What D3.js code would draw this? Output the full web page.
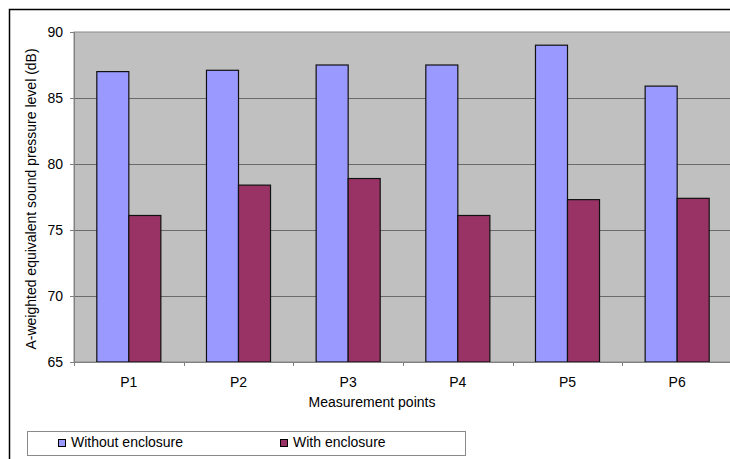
<!DOCTYPE html>
<html>
<head>
<meta charset="utf-8">
<script src="https://cdn.jsdelivr.net/npm/d3@7"></script>
<style>
  body { margin: 0; background: #fff; }
  text { font-family: "Liberation Sans", Arial, sans-serif; fill: #000; }
</style>
</head>
<body>
<div id="chart-area"></div>
<script>
// data
const points = ["P1", "P2", "P3", "P4", "P5", "P6"];
const withoutEnclosure = [87.0, 87.1, 87.5, 87.5, 89.0, 85.9];
const withEnclosure = [76.1, 78.4, 78.9, 76.1, 77.3, 77.4];
const seriesNames = ["Without enclosure", "With enclosure"];
const seriesColors = ["#9999ff", "#993366"];
const yTicks = [65, 70, 75, 80, 85, 90];

const canvasWidth = 730;
const canvasHeight = 459;
const plot = {left: 74, top: 32, right: 732, bottom: 362};
const fontSize = "14px";

var svg = d3.select("#chart-area")
    .append("svg")
        .attr("width", canvasWidth)
        .attr("height", canvasHeight);

// outer chart border (cut off at right / bottom)
svg.append("rect")
    .attr("x", 9.5).attr("y", 9.5)
    .attr("width", 740).attr("height", 470)
    .attr("fill", "#fff")
    .attr("stroke", "#000")
    .attr("stroke-width", 1.5);

// scales
var x = d3.scaleBand()
    .domain(points)
    .range([plot.left, plot.right]);

var gap = x.bandwidth() * 0.208;
var x1 = d3.scaleBand()
    .domain(seriesNames)
    .range([gap, x.bandwidth() - gap]);

var y = d3.scaleLinear()
    .domain([65, 90])
    .range([plot.bottom, plot.top]);

// plot background
svg.append("rect")
    .attr("x", plot.left).attr("y", plot.top)
    .attr("width", plot.right - plot.left)
    .attr("height", plot.bottom - plot.top)
    .attr("fill", "#c0c0c0")
    .attr("stroke", "#8a8a8a")
    .attr("stroke-width", 1);

// gridlines
svg.append("g")
    .selectAll("line")
    .data(yTicks.filter(d => d > 65 && d < 90))
    .enter().append("line")
        .attr("x1", plot.left).attr("x2", plot.right)
        .attr("y1", d => Math.round(y(d)) + 0.5)
        .attr("y2", d => Math.round(y(d)) + 0.5)
        .attr("stroke", "#6a6a6a")
        .attr("stroke-width", 1);

// bars
var rows = points.map((p, i) => ({point: p, values: [withoutEnclosure[i], withEnclosure[i]]}));

var groups = svg.append("g")
    .selectAll("g")
    .data(rows)
    .enter().append("g")
        .attr("transform", d => "translate(" + x(d.point) + ",0)");

groups.selectAll("rect")
    .data(d => d.values.map((v, j) => ({name: seriesNames[j], value: v, color: seriesColors[j]})))
    .enter().append("rect")
        .attr("x", d => x1(d.name))
        .attr("y", d => y(d.value))
        .attr("width", x1.bandwidth())
        .attr("height", d => y(65) - y(d.value))
        .attr("fill", d => d.color)
        .attr("stroke", "#111")
        .attr("stroke-width", 1.2);

// y axis
var yAxis = d3.axisLeft(y)
    .tickValues(yTicks)
    .tickSize(4)
    .tickPadding(7)
    .tickFormat(d3.format("d"));
var yAxisGroup = svg.append("g")
    .attr("transform", "translate(" + plot.left + ",0)")
    .call(yAxis);
yAxisGroup.select(".domain").attr("stroke", "#808080");
yAxisGroup.selectAll(".tick line").attr("stroke", "#808080");
yAxisGroup.selectAll("text")
    .attr("font-size", fontSize)
    .attr("font-family", "Liberation Sans, Arial, sans-serif");

// x axis
var xAxis = d3.axisBottom(x)
    .tickSize(0)
    .tickPadding(15);
var xAxisGroup = svg.append("g")
    .attr("transform", "translate(0," + plot.bottom + ")")
    .call(xAxis);
xAxisGroup.select(".domain").attr("stroke", "#808080");
xAxisGroup.selectAll("text")
    .attr("font-size", fontSize)
    .attr("font-family", "Liberation Sans, Arial, sans-serif");

// x category dividers
svg.append("g")
    .selectAll("line")
    .data(points)
    .enter().append("line")
        .attr("x1", d => Math.round(x(d)) + 0.5)
        .attr("x2", d => Math.round(x(d)) + 0.5)
        .attr("y1", plot.bottom)
        .attr("y2", plot.bottom + 4)
        .attr("stroke", "#808080");

// X Label
svg.append("text")
    .attr("x", 372)
    .attr("y", 407)
    .attr("font-size", fontSize)
    .attr("text-anchor", "middle")
    .text("Measurement points");

// Y Label
svg.append("text")
    .attr("transform", "rotate(-90)")
    .attr("x", -199)
    .attr("y", 36)
    .attr("font-size", fontSize)
    .attr("text-anchor", "middle")
    .text("A-weighted equivalent sound pressure level (dB)");

// legend
var legend = svg.append("g");
legend.append("rect")
    .attr("x", 27.5).attr("y", 431.5)
    .attr("width", 438).attr("height", 24)
    .attr("fill", "#fff")
    .attr("stroke", "#8a8a8a");

var legendX = [58, 280];
seriesNames.forEach((name, i) => {
    var row = legend.append("g")
        .attr("transform", "translate(" + legendX[i] + ",0)");
    row.append("rect")
        .attr("x", 0.5).attr("y", 439.5)
        .attr("width", 7).attr("height", 7)
        .attr("fill", seriesColors[i])
        .attr("stroke", "#000");
    row.append("text")
        .attr("x", 13)
        .attr("y", 447)
        .attr("font-size", fontSize)
        .text(name);
});
</script>
</body>
</html>
